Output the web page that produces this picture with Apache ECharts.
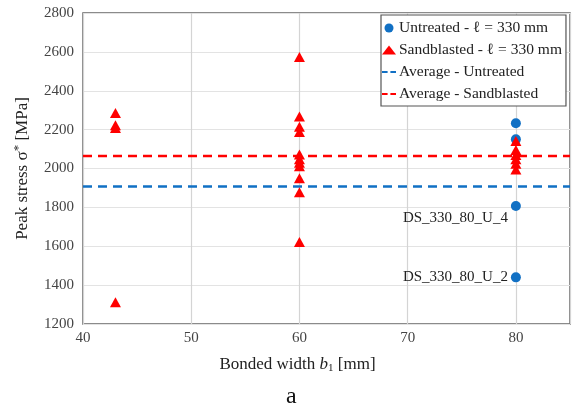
<!DOCTYPE html>
<html><head><meta charset="utf-8">
<script src="https://cdn.jsdelivr.net/npm/echarts@6/dist/echarts.min.js"></script>
<style>html,body{margin:0;padding:0;background:#fff}#c{width:574px;height:415px}</style>
</head><body><div id="c"></div>
<script>
const untreatedX = [80, 80, 80, 80];
const untreatedY = [2233, 2150, 1807, 1440];
const untreatedLabels = ['', '', 'DS_330_80_U_4', 'DS_330_80_U_2'];
const sandX = [43, 43, 43, 43, 60, 60, 60, 60, 60, 60, 60, 60, 60, 60, 60, 80, 80, 80, 80, 80, 80];
const sandY = [2285, 2222, 2208, 1312, 2573, 2267, 2215, 2188, 2072, 2048, 2030, 2012, 1950, 1878, 1622, 2142, 2095, 2070, 2048, 2025, 1995];
const avgUntreated = [1908];
const avgSandblasted = [2064];
const xRange = [40, 85];
const seriesNames = ['Untreated - \u2113 = 330 mm', 'Sandblasted - \u2113 = 330 mm', 'Average - Untreated', 'Average - Sandblasted'];

const serif = '"Liberation Serif", "DejaVu Serif", serif';
const blue = '#1170c4';
const red = '#ff0000';
const dashIcon = 'path://M0,0h6v2h-6z M9,0h6v2h-6z';

const chart = echarts.init(document.getElementById('c'), null, {renderer: 'canvas'});
chart.setOption({
  animation: false,
  backgroundColor: '#fff',
  textStyle: {fontFamily: serif},
  title: {text: 'a', left: 281, top: 380, textStyle: {fontFamily: serif, fontSize: 24, fontWeight: 'normal', color: '#111'}},
  grid: {left: 83, top: 13, right: 4, bottom: 91, show: true, borderColor: '#666', borderWidth: 1.5, backgroundColor: '#fff'},
  legend: {
    orient: 'vertical', left: 381, top: 15, width: 185,
    backgroundColor: '#fff', borderColor: '#555', borderWidth: 1.2, borderRadius: 0,
    padding: [5, 4, 4, 1], itemGap: 6, itemWidth: 14, itemHeight: 9,
    textStyle: {fontFamily: serif, fontSize: 15.5, color: '#222', padding: [0, 0, 0, -2]},
    data: [
      {name: seriesNames[0], icon: 'circle', itemWidth: 10},
      {name: seriesNames[1], icon: 'triangle'},
      {name: seriesNames[2], icon: dashIcon},
      {name: seriesNames[3], icon: dashIcon}
    ]
  },
  xAxis: {
    type: 'value', min: xRange[0], max: xRange[1], interval: 10,
    axisLine: {show: false}, axisTick: {show: false},
    splitLine: {show: true, lineStyle: {color: '#d4d4d4', width: 1.2}},
    axisLabel: {fontFamily: serif, fontSize: 15, color: '#444', margin: 7,
      formatter: v => (v % 10 === 0 && v <= 80) ? String(v) : ''},
    name: '{n|Bonded width }{i|b}{s|1}{n| [mm]}', nameLocation: 'middle', nameGap: 31,
    nameTextStyle: {padding: [0, 58, 0, 0], rich: {
      n: {fontFamily: serif, fontSize: 17, color: '#222'},
      i: {fontFamily: serif, fontSize: 17, fontStyle: 'italic', color: '#222'},
      s: {fontFamily: serif, fontSize: 11, color: '#222', padding: [8, 0, 0, 0]}
    }}
  },
  yAxis: {
    type: 'value', min: 1200, max: 2800, interval: 200,
    axisLine: {show: false}, axisTick: {show: false},
    splitLine: {show: true, lineStyle: {color: '#e3e3e3', width: 1.2}},
    axisLabel: {fontFamily: serif, fontSize: 15, color: '#444', margin: 9, formatter: v => String(v)},
    name: '{n|Peak stress \u03c3}{s|*}{n| [MPa]}', nameLocation: 'middle', nameGap: 50, nameRotate: 90,
    nameTextStyle: {rich: {
      n: {fontFamily: serif, fontSize: 17, color: '#222'},
      s: {fontFamily: serif, fontSize: 13, color: '#222', padding: [0, 0, 8, 0]}
    }}
  },
  series: [
    {
      name: seriesNames[0], type: 'scatter', symbol: 'circle', symbolSize: 10,
      itemStyle: {color: blue, opacity: 1}, z: 4,
      data: untreatedX.map((x, i) => ({value: [x, untreatedY[i]], label: {show: untreatedLabels[i] !== ''}})),
      label: {position: 'left', distance: 3, fontFamily: serif, fontSize: 15, color: '#222',
        formatter: p => untreatedLabels[p.dataIndex]},
      labelLayout: p => (p.dataIndex === 2 ? {dy: 12} : {})
    },
    {
      name: seriesNames[1], type: 'scatter', symbol: 'triangle', symbolSize: [11, 10],
      itemStyle: {color: red, opacity: 1}, z: 5,
      data: sandX.map((x, i) => [x, sandY[i]])
    },
    {
      name: seriesNames[2], type: 'line', symbol: 'none', z: 3,
      lineStyle: {color: blue, width: 2.5, type: [9, 6]}, itemStyle: {color: blue},
      data: xRange.map(x => [x, avgUntreated[0]])
    },
    {
      name: seriesNames[3], type: 'line', symbol: 'none', z: 3,
      lineStyle: {color: red, width: 2.5, type: [9, 6]}, itemStyle: {color: red},
      data: xRange.map(x => [x, avgSandblasted[0]])
    }
  ]
});
</script></body></html>
